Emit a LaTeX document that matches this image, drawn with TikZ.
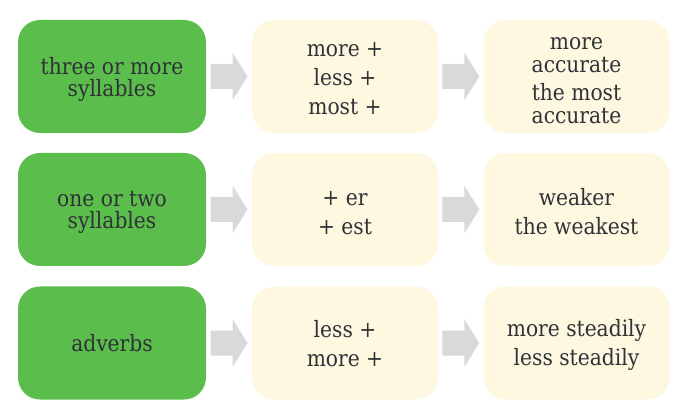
\documentclass[tikz,border=0pt]{standalone}
\usepackage{fontspec}
\setmainfont{DejaVu Serif Condensed}
\usetikzlibrary{calc}
\definecolor{boxgreen}{HTML}{5BBD4B}
\definecolor{boxyellow}{HTML}{FEF8E0}
\definecolor{arrowgray}{HTML}{D9D9DB}
\definecolor{txt}{HTML}{2F3236}
\tikzset{
  base/.style={rectangle, rounded corners=22pt, minimum height=113pt, inner sep=0pt},
  greenbox/.style={base, fill=boxgreen, minimum width=188pt},
  yellowbox/.style={base, fill=boxyellow, minimum width=186pt},
  gtext/.style={align=center, text=txt, inner sep=0pt, font=\fontsize{22.5}{22}\selectfont},
  ytext/.style={align=center, text=txt, inner sep=0pt, font=\fontsize{22.5}{29}\selectfont},
  arrowfill/.style={fill=arrowgray},
}
\newcommand{\grayarrow}[1]{%
  \fill[arrowfill] ($(#1)+(-18.5,-12.5)$) -- ($(#1)+(3.5,-12.5)$) -- ($(#1)+(3.5,-24)$) -- ($(#1)+(18.5,0)$) -- ($(#1)+(3.5,24)$) -- ($(#1)+(3.5,12.5)$) -- ($(#1)+(-18.5,12.5)$) -- cycle;}
\begin{document}
\begin{tikzpicture}[x=1pt,y=-1pt]
\useasboundingbox (0,0) rectangle (689,417);
% boxes
\node[greenbox] (g1) at (112,76.5) {};
\node[yellowbox] (a1) at (345,76.5) {};
\node[yellowbox] (b1) at (576.5,76.5) {};
\node[greenbox] (g2) at (112,209.5) {};
\node[yellowbox] (a2) at (345,209.5) {};
\node[yellowbox] (b2) at (576.5,209.5) {};
\node[greenbox] (g3) at (112,343) {};
\node[yellowbox] (a3) at (345,343) {};
\node[yellowbox] (b3) at (576.5,343) {};
% texts
\node[gtext, yshift=-3pt] (tg1) at (g1) {three or more\\syllables};
\node[ytext, yshift=-2pt] (ta1) at (a1) {more +\\less +\\most +};
\node[ytext, yshift=-4pt, font=\fontsize{22.5}{23}\selectfont] (tb1) at (b1) {more\\accurate\\[5pt]the most\\accurate};
\node[gtext, yshift=-3pt] (tg2) at (g2) {one or two\\syllables};
\node[ytext, yshift=-3.5pt] (ta2) at (a2) {+ er\\+ est};
\node[ytext, yshift=-2pt] (tb2) at (b2) {weaker\\the weakest};
\node[gtext] (tg3) at (g3) {adverbs};
\node[ytext, yshift=-1pt] (ta3) at (a3) {less +\\more +};
\node[ytext, yshift=-1.5pt] (tb3) at (b3) {more steadily\\less steadily};
% arrows
\foreach \r in {1,2,3}{
  \path (g\r.east) -- (a\r.west) coordinate[pos=0.5] (m\r);
  \path (a\r.east) -- (b\r.west) coordinate[pos=0.5] (n\r);
  \grayarrow{m\r}
  \grayarrow{n\r}
}
\end{tikzpicture}
\end{document}
